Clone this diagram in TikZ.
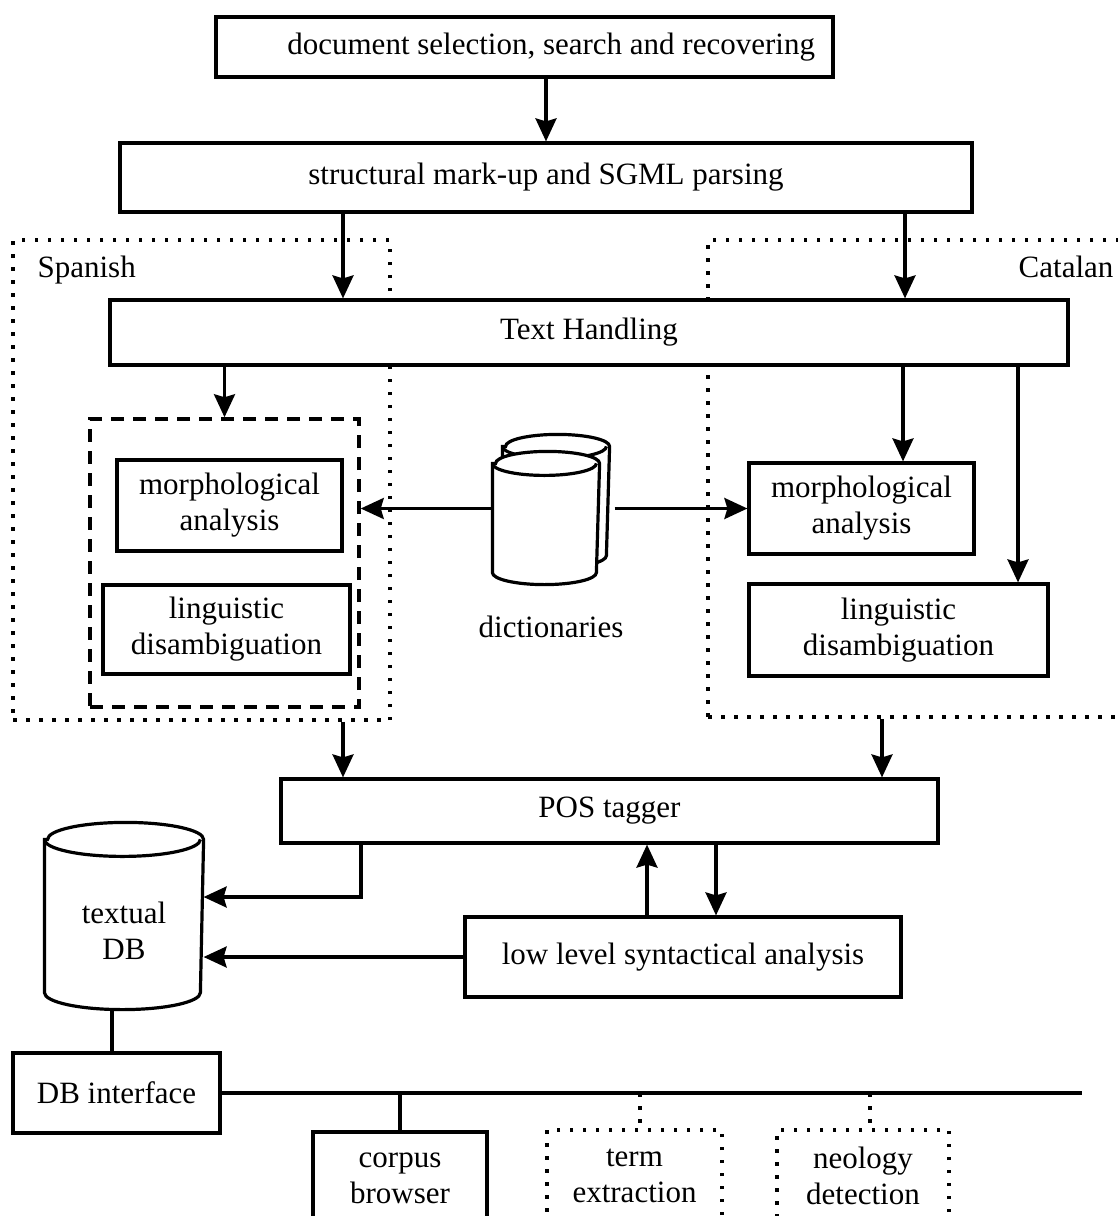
\documentclass[tikz,border=0pt]{standalone}
\usepackage{fontspec}
\setmainfont{Liberation Serif}
\usetikzlibrary{arrows.meta}
\begin{document}
\begin{tikzpicture}[x=1pt,y=-1pt,line width=3.2pt,
    >={Stealth[length=23pt,width=21pt,inset=3pt]},
    font=\fontsize{31}{36}\selectfont,
    box/.style={rectangle,draw,fill=white,align=center,inner sep=0pt},
    group/.style={rectangle,draw,line width=3.5pt,dash pattern=on 3.5pt off 9.5pt,inner sep=0pt},
    hold/.style={rectangle,inner sep=0pt,align=center}]
        \useasboundingbox (0,0) rectangle (1118,1216);
        \node[group,minimum width=377pt,minimum height=480pt] at (201.5,480) (spanish) {};
        \node[group,minimum width=422pt,minimum height=477pt] at (919,478.5) (catalan) {};
        \node[anchor=west,inner sep=0pt] at (36,270) (splabel) {Spanish};
        \node[anchor=east,inner sep=0pt] at (1115,267) (calabel) {Catalan};
        \node[box,align=flush right,text width=581pt,minimum width=617pt,minimum height=60pt] at (524.5,47) (select) {document selection, search and recovering};
        \node[box,minimum width=852pt,minimum height=69pt] at (546,177.5) (sgml) {structural mark-up and SGML parsing};
        \node[box,minimum width=958pt,minimum height=65pt] at (589,332.5) (text) {Text Handling};
        \node[rectangle,draw,line width=3.5pt,dash pattern=on 13pt off 9pt,inner sep=0pt,minimum width=269pt,minimum height=288pt] at (224.5,563) (spgroup) {};
        \node[box,minimum width=225pt,minimum height=91pt] at (229.5,505.5) (spmorph) {morphological\\analysis};
        \node[box,minimum width=247pt,minimum height=89pt] at (226.5,629.5) (spling) {linguistic\\disambiguation};
        \node[box,minimum width=225pt,minimum height=91pt] at (861.5,508.5) (camorph) {morphological\\analysis};
        \node[box,minimum width=299pt,minimum height=92pt] at (898.5,630) (caling) {linguistic\\disambiguation};
        % diccionarios
        \node[hold,minimum width=104pt,minimum height=130pt] at (556,501) (dictback) {};
        \draw[fill=white] ([yshift=-12pt]dictback.north west) -- ([yshift=12pt]dictback.south west)
            arc[start angle=180,end angle=360,x radius=52pt,y radius=12pt] -- ([yshift=-12pt]dictback.north east)
            arc[start angle=0,end angle=180,x radius=52pt,y radius=12pt] -- cycle;
        \draw ([yshift=-12pt]dictback.north west) arc[start angle=180,end angle=360,x radius=52pt,y radius=12pt];
        \node[hold,minimum width=104pt,minimum height=130pt] at (546,518) (dict) {};
        \draw[fill=white] ([yshift=-12pt]dict.north west) -- ([yshift=12pt]dict.south west)
            arc[start angle=180,end angle=360,x radius=52pt,y radius=12pt] -- ([yshift=-12pt]dict.north east)
            arc[start angle=0,end angle=180,x radius=52pt,y radius=12pt] -- cycle;
        \draw ([yshift=-12pt]dict.north west) arc[start angle=180,end angle=360,x radius=52pt,y radius=12pt];
        \node at (551,627) (dictlabel) {dictionaries};
        \node[box,minimum width=657pt,minimum height=64pt] at (609.5,811) (pos) {POS tagger};
        \node[box,minimum width=436pt,minimum height=80pt] at (683,957) (lowlevel) {low level syntactical analysis};
        % base de datos
        \node[hold,minimum width=156pt,minimum height=184pt] at (124,916) (textdb) {};
        \draw ([yshift=-17pt]textdb.north west) -- ([yshift=17pt]textdb.south west)
            arc[start angle=180,end angle=360,x radius=78pt,y radius=17pt] -- ([yshift=-17pt]textdb.north east)
            arc[start angle=0,end angle=180,x radius=78pt,y radius=17pt] -- cycle;
        \draw ([yshift=-17pt]textdb.north west) arc[start angle=180,end angle=360,x radius=78pt,y radius=17pt];
        \node[hold] at (124,931) (textdblabel) {textual\\DB};
        \node[box,minimum width=207pt,minimum height=80pt] at (116.5,1093) (dbif) {DB interface};
        \node[box,minimum width=174pt,minimum height=92pt] at (400,1178) (corpus) {corpus\\browser};
        \node[group,align=center,minimum width=175pt,minimum height=92pt] at (634.5,1176) (term) {term\\extraction};
        \node[group,align=center,minimum width=172pt,minimum height=92pt] at (863,1176) (neology) {neology\\detection};
        % flujo principal
        \draw[->] (sgml.north |- select.south) -- (sgml.north);
        \draw[->] ([xshift=-203pt]sgml.south) -- ([xshift=-203pt]sgml.south |- text.north);
        \draw[->] ([xshift=359pt]sgml.south) -- ([xshift=359pt]sgml.south |- text.north);
        \draw[->] (spgroup.north |- text.south) -- (spgroup.north);
        \draw[->] ([xshift=41.5pt]camorph.north |- text.south) -- ([xshift=41.5pt]camorph.north);
        \draw[->] ([xshift=119.5pt]caling.north |- text.south) -- ([xshift=119.5pt]caling.north);
        \draw[->] (dict.west |- camorph.west) -- (spgroup.east |- camorph.west);
        \draw[->] ([xshift=5pt]dictback.east |- camorph.west) -- (camorph.west);
        \draw[->] ([xshift=-266.5pt]pos.north |- spanish.south) -- ([xshift=-266.5pt]pos.north);
        \draw[->] ([xshift=272.5pt]pos.north |- catalan.south) -- ([xshift=272.5pt]pos.north);
        % etiquetado y consulta
        \draw[->] ([xshift=-248.5pt]pos.south) |- ([yshift=19pt]textdb.east);
        \draw[->] (lowlevel.west) -- (lowlevel.west -| textdb.east);
        \draw[->] ([xshift=-36pt]lowlevel.north) -- ([xshift=-36pt]lowlevel.north |- pos.south);
        \draw[->] ([xshift=33pt]lowlevel.north |- pos.south) -- ([xshift=33pt]lowlevel.north);
        \draw ([xshift=-4.5pt]dbif.north |- textdb.south) -- ([xshift=-4.5pt]dbif.north);
        \draw (dbif.east) -- ++(860,0);
        \draw (corpus.north |- dbif.east) -- (corpus.north);
        \draw[line width=3.5pt,dash pattern=on 3.5pt off 9.5pt] ([xshift=5.5pt]term.north |- dbif.east) -- ([xshift=5.5pt]term.north);
        \draw[line width=3.5pt,dash pattern=on 3.5pt off 9.5pt] ([xshift=7pt]neology.north |- dbif.east) -- ([xshift=7pt]neology.north);
    \end{tikzpicture}
\end{document}
